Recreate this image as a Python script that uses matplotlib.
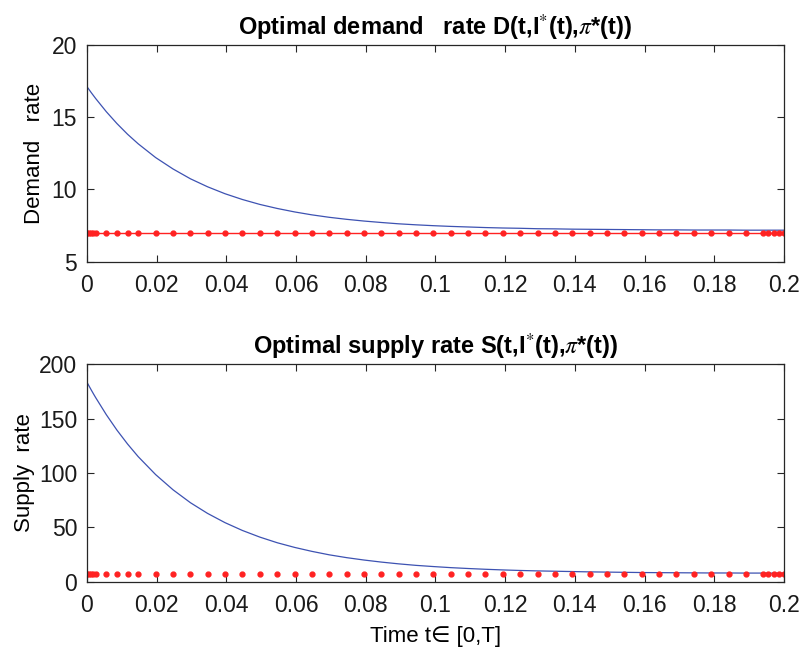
import matplotlib
matplotlib.use('Agg')
from matplotlib import pyplot as plt

plt.rcParams['font.family'] = ['Liberation Sans', 'DejaVu Sans']
plt.rcParams['mathtext.fontset'] = 'stix'

## Solver time points
t = [0, 0.000625, 0.00125, 0.001875, 0.0025, 0.00555, 0.0086, 0.01165, 0.0147,
     0.0197, 0.0247, 0.0297, 0.0346, 0.0396, 0.0446, 0.0496, 0.0546, 0.0596,
     0.0645, 0.0695, 0.0745, 0.0795, 0.0845, 0.0894, 0.0944, 0.0994, 0.1044,
     0.1094, 0.1143, 0.1193, 0.1243, 0.1293, 0.1343, 0.1392, 0.1442, 0.1492,
     0.1542, 0.1592, 0.1641, 0.1691, 0.1741, 0.1791, 0.1841, 0.1890, 0.1940,
     0.1955, 0.1970, 0.1985, 0.2000]

## Optimal demand rate (blue)
demand = [17.10, 16.89, 16.68, 16.48, 16.28, 15.37, 14.55, 13.81, 13.15,
          12.20, 11.41, 10.73, 10.18, 9.70, 9.30, 8.96, 8.68, 8.44,
          8.24, 8.07, 7.93, 7.81, 7.71, 7.62, 7.55, 7.49, 7.44,
          7.40, 7.36, 7.33, 7.31, 7.28, 7.27, 7.25, 7.24, 7.23,
          7.22, 7.21, 7.20, 7.20, 7.19, 7.19, 7.19, 7.18, 7.18,
          7.18, 7.18, 7.18, 7.18]

## Optimal supply rate (blue)
supply = [183.4, 179.8, 176.2, 172.7, 169.3, 153.6, 139.4, 126.6, 115.0,
          98.5, 84.5, 72.6, 62.8, 54.3, 47.1, 41.0, 35.8, 31.5,
          27.9, 24.7, 22.1, 19.9, 18.0, 16.4, 15.0, 13.9, 12.9,
          12.1, 11.4, 10.8, 10.3, 9.9, 9.6, 9.3, 9.0, 8.8,
          8.6, 8.4, 8.3, 8.2, 8.1, 8.0, 8.0, 7.9, 7.9,
          7.9, 7.8, 7.8, 7.8]

## Reference (red dots), constant level
ref_demand = [7.0, 7.0, 7.0, 7.0, 7.0, 7.0, 7.0, 7.0, 7.0, 7.0, 7.0, 7.0, 7.0,
              7.0, 7.0, 7.0, 7.0, 7.0, 7.0, 7.0, 7.0, 7.0, 7.0, 7.0, 7.0, 7.0,
              7.0, 7.0, 7.0, 7.0, 7.0, 7.0, 7.0, 7.0, 7.0, 7.0, 7.0, 7.0, 7.0,
              7.0, 7.0, 7.0, 7.0, 7.0, 7.0, 7.0, 7.0, 7.0, 7.0]
ref_supply = [7.0, 7.0, 7.0, 7.0, 7.0, 7.0, 7.0, 7.0, 7.0, 7.0, 7.0, 7.0, 7.0,
              7.0, 7.0, 7.0, 7.0, 7.0, 7.0, 7.0, 7.0, 7.0, 7.0, 7.0, 7.0, 7.0,
              7.0, 7.0, 7.0, 7.0, 7.0, 7.0, 7.0, 7.0, 7.0, 7.0, 7.0, 7.0, 7.0,
              7.0, 7.0, 7.0, 7.0, 7.0, 7.0, 7.0, 7.0, 7.0, 7.0]

xticks = [0, 0.02, 0.04, 0.06, 0.08, 0.1, 0.12, 0.14, 0.16, 0.18, 0.2]
xticklabels = ['0', '0.02', '0.04', '0.06', '0.08', '0.1', '0.12', '0.14', '0.16', '0.18', '0.2']

blue = '#3d52b2'
red = '#ff2222'
edge = '#262626'

fig = plt.figure(figsize=(8.03, 6.51), dpi=100)
ax1 = fig.add_axes([0.1083, 0.598, 0.868, 0.3333])
ax2 = fig.add_axes([0.1083, 0.1065, 0.868, 0.334])

ax1.plot(t, demand, color=blue, lw=0.9)
ax1.plot(t, ref_demand, '-o', color=red, lw=1.0, ms=3.5, mec=red, mfc=red)
ax1.set_ylim(5, 20)
ax1.set_yticks([5, 10, 15, 20])
ax1.set_ylabel('Demand   rate', fontsize=16)
ax1.yaxis.set_label_coords(-0.06, 0.5)
ax1.set_title(r'Optimal demand   rate D(t,I$^{*}$(t),$\pi$*(t))',
              fontsize=17, fontweight='bold', pad=7)

ax2.plot(t, supply, color=blue, lw=0.9)
ax2.plot(t, ref_supply, 'o', color=red, ms=3.5, mec=red, mfc=red)
ax2.set_ylim(0, 200)
ax2.set_yticks([0, 50, 100, 150, 200])
ax2.set_ylabel('Supply  rate', fontsize=16)
ax2.yaxis.set_label_coords(-0.074, 0.5)
ax2.set_xlabel('Time t\u2208 [0,T]', fontsize=16, labelpad=6)
ax2.set_title(r'Optimal supply rate S(t,I$^{*}$(t),$\pi$*(t))',
              fontsize=17, fontweight='bold', pad=7)

for ax in (ax1, ax2):
    ax.set_xlim(0, 0.2)
    ax.set_xticks(xticks)
    ax.set_xticklabels(xticklabels)
    ax.tick_params(direction='in', top=True, right=True, length=5, width=0.8,
                   labelsize=16.5, color=edge, labelcolor='#1a1a1a')
    ax.tick_params(axis='x', pad=9)
    ax.tick_params(axis='y', pad=7)
    for s in ax.spines.values():
        s.set_color(edge)
        s.set_linewidth(0.9)

plt.savefig('out.png', dpi=100)
